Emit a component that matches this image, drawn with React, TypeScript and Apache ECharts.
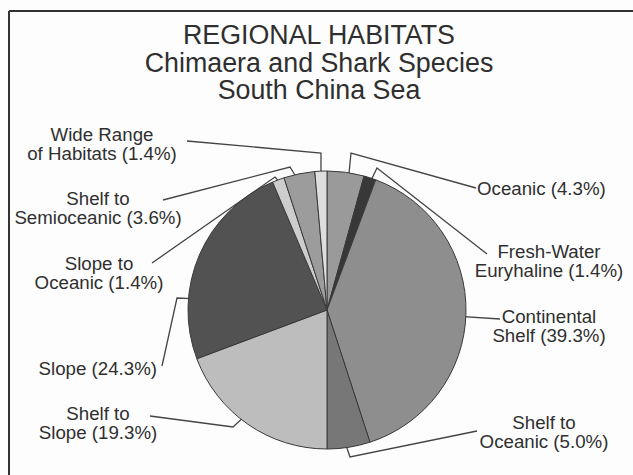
import React, { useEffect, useRef } from 'react';
import * as echarts from 'echarts';

// ---- data ----
const categories = [
  'Oceanic',
  'Fresh-Water\nEuryhaline',
  'Continental\nShelf',
  'Shelf to\nOceanic',
  'Shelf to\nSlope',
  'Slope',
  'Slope to\nOceanic',
  'Shelf to\nSemioceanic',
  'Wide Range\nof Habitats',
];
const shares = [4.3, 1.4, 39.3, 5.0, 19.3, 24.3, 1.4, 3.6, 1.4];
const sliceColors = [
  '#9a9a9a',
  '#383838',
  '#8e8e8e',
  '#777777',
  '#bdbdbd',
  '#525252',
  '#cdcdcd',
  '#9c9c9c',
  '#dedede',
];
const titleLines = ['REGIONAL HABITATS', 'Chimaera and Shark Species', 'South China Sea'];

// ---- layout ----
const CX = 327;
const CY = 310;
const R = 139;
const FONT = '"Liberation Sans", Arial, Helvetica, sans-serif';
const TEXT_COLOR = '#2f2f2f';

type Placement = {
  x: number;
  y: number;
  align: 'left' | 'center' | 'right';
  end: number[];
  elbow: number[] | null;
  frac: number;
  rk: number;
};

const placements: Placement[] = [
  { x: 477, y: 188, align: 'left', end: [476, 188], elbow: [351, 153], frac: 0.6, rk: 0.96 },
  { x: 549, y: 261, align: 'center', end: [487, 254], elbow: [377, 168], frac: 0.6, rk: 0.95 },
  { x: 549, y: 326, align: 'center', end: [500, 319], elbow: null, frac: 0.51, rk: 0.9 },
  { x: 544, y: 432, align: 'center', end: [477, 431], elbow: [350, 457], frac: 0.57, rk: 0.96 },
  { x: 98, y: 423, align: 'center', end: [150, 416], elbow: [233, 427], frac: 0.54, rk: 0.94 },
  { x: 157, y: 368, align: 'right', end: [162, 366], elbow: [177, 298], frac: 0.29, rk: 0.94 },
  { x: 99, y: 273, align: 'center', end: [152, 263], elbow: [275, 177], frac: 0.7, rk: 0.95 },
  { x: 98, y: 208, align: 'center', end: [163, 200], elbow: [290, 167], frac: 0.4, rk: 0.97 },
  { x: 102, y: 144, align: 'center', end: [187, 141], elbow: [321, 153], frac: 0.48, rk: 0.95 },
];

function anchorPoint(i: number): number[] {
  const total = shares.reduce((a, b) => a + b, 0);
  let before = 0;
  for (let k = 0; k < i; k++) before += shares[k];
  const p = placements[i];
  const frac = (before + shares[i] * p.frac) / total;
  const ang = frac * Math.PI * 2;
  const r = R * p.rk;
  return [CX + r * Math.sin(ang), CY - r * Math.cos(ang)];
}

export default function App() {
  const ref = useRef<HTMLDivElement>(null);

  useEffect(() => {
    if (!ref.current) return;
    const chart = echarts.init(ref.current, undefined, { renderer: 'svg' });

    const data = categories.map((name, i) => ({
      name,
      value: shares[i],
      itemStyle: { color: sliceColors[i] },
    }));

    chart.setOption({
      animation: false,
      backgroundColor: '#fdfdfd',
      graphic: [
        {
          type: 'line',
          shape: { x1: 9, y1: 11, x2: 633, y2: 11 },
          style: { stroke: '#333', lineWidth: 2 },
          silent: true,
        },
        {
          type: 'line',
          shape: { x1: 9, y1: 11, x2: 9, y2: 475 },
          style: { stroke: '#333', lineWidth: 2 },
          silent: true,
        },
        ...titleLines.map((t, i) => ({
          type: 'text',
          x: 319,
          y: 35 + i * 27.5,
          style: {
            text: t,
            fill: TEXT_COLOR,
            font: `26.8px ${FONT}`,
            textAlign: 'center',
            textVerticalAlign: 'middle',
          },
          silent: true,
        })),
      ],
      series: [
        {
          type: 'pie',
          center: [CX, CY],
          radius: R,
          startAngle: 90,
          clockwise: true,
          avoidLabelOverlap: false,
          silent: true,
          emphasis: { disabled: true },
          itemStyle: { borderColor: '#3a3a3a', borderWidth: 1 },
          label: {
            show: true,
            position: 'outside',
            width: 230,
            overflow: 'none',
            fontFamily: FONT,
            fontSize: 18.7,
            lineHeight: 19,
            color: TEXT_COLOR,
            formatter: (p: any) => `${p.name} (${Number(p.value).toFixed(1)}%)`,
          },
          labelLine: {
            show: true,
            length: 10,
            length2: 10,
            smooth: false,
            lineStyle: { color: '#444', width: 1.3 },
          },
          labelLayout: (params: any) => {
            const i = params.dataIndex;
            const p = placements[i];
            const a = anchorPoint(i);
            const pts = p.elbow ? [a, p.elbow, p.end] : [a, p.end];
            return {
              x: p.x,
              y: p.y,
              align: p.align,
              verticalAlign: 'middle',
              labelLinePoints: pts,
            };
          },
          data,
        },
      ],
    });

    return () => chart.dispose();
  }, []);

  return (
    <div
      ref={ref}
      style={{ position: 'fixed', left: 0, top: 0, width: 633, height: 475 }}
    />
  );
}
